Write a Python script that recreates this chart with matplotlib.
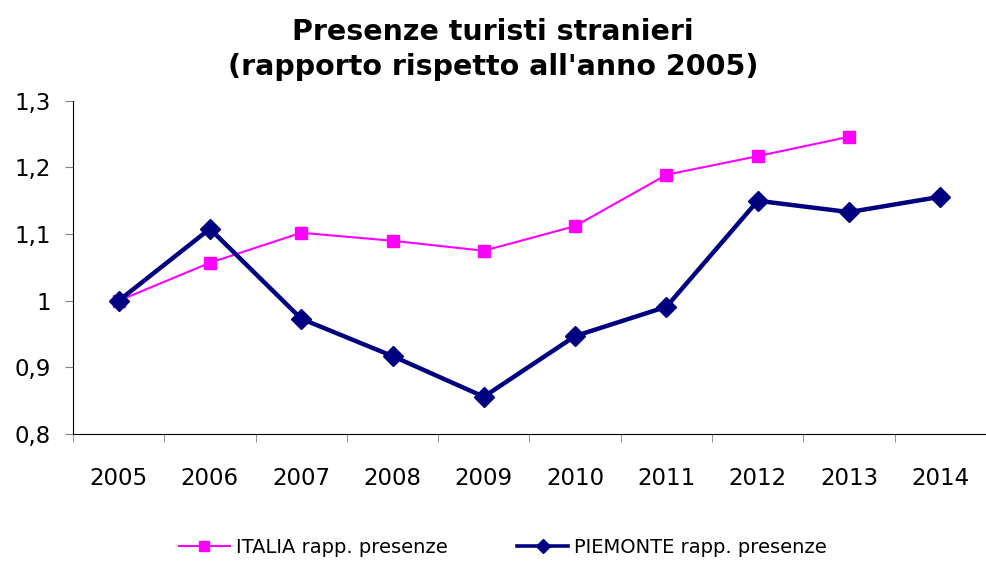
import numpy as np
import matplotlib
matplotlib.use("Agg")
import matplotlib.pyplot as plt

years = ["2005", "2006", "2007", "2008", "2009", "2010", "2011", "2012", "2013", "2014"]
italia = [1.000, 1.057, 1.102, 1.090, 1.075, 1.112, 1.189, 1.217, 1.246]
piemonte = [1.000, 1.108, 0.973, 0.917, 0.856, 0.947, 0.991, 1.150, 1.133, 1.156]
yticks = [0.8, 0.9, 1.0, 1.1, 1.2, 1.3]
ylabels = ["0,8", "0,9", "1", "1,1", "1,2", "1,3"]

fig = plt.figure(figsize=(9.86, 5.63), dpi=100)
ax = fig.add_axes([0.074, 0.229, 0.926, 0.592])

x = np.arange(len(years))
ax.plot(x[:len(italia)], italia, color="#FF00FF", lw=1.5, marker="s", ms=9,
        label="ITALIA rapp. presenze", zorder=2)
ax.plot(x, piemonte, color="#000080", lw=3.2, marker="D", ms=10,
        label="PIEMONTE rapp. presenze", zorder=3)

ax.set_xlim(-0.5, 9.5)
ax.set_ylim(0.8, 1.3)
ax.set_yticks(yticks)
ax.set_yticklabels(ylabels)
ax.set_xticks(x)
ax.set_xticklabels(years)
ax.set_xticks(np.arange(-0.5, 10, 1), minor=True)
ax.tick_params(axis="x", which="major", length=0, pad=24, labelsize=16.5)
ax.tick_params(axis="x", which="minor", length=6, color="#808080")
ax.tick_params(axis="y", length=6, color="#808080", labelsize=16.5, pad=10)
for s in ["top", "right"]:
    ax.spines[s].set_visible(False)

fig.suptitle("Presenze turisti stranieri\n(rapporto rispetto all'anno 2005)",
             fontsize=20.5, fontweight="bold", y=0.968, linespacing=1.3)
leg = fig.legend(loc="center", bbox_to_anchor=(0.51, 0.027), ncol=2, frameon=False,
                 fontsize=14, handlelength=2.6, handletextpad=0.3, columnspacing=3.6)
for h in leg.legend_handles:
    h.set_markersize(7)
leg.legend_handles[1].set_linewidth(2.6)

fig.savefig("out.png", dpi=100)
